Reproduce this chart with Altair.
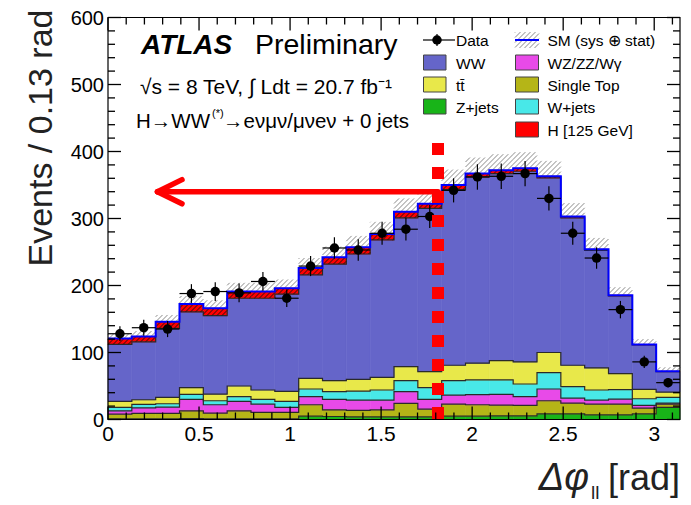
import altair as alt
import numpy as np
import pandas as pd

# ------------------------------------------------------------------ data
N_BINS = 24
X_MAX = np.pi
Y_MAX = 600

data_counts = [128, 137, 135, 188, 191, 189, 206, 181, 229, 256, 253, 278,
               284, 303, 342, 362, 363, 367, 330, 278, 241, 164, 86, 55]
data_err = [11, 12, 12, 14, 14, 14, 14, 13, 15, 16, 16, 17,
            17, 17, 18, 19, 19, 19, 18, 17, 16, 13, 9, 7]

z_jets = [1, 1, 1, 1.5, 1, 1, 1, 1, 5, 4.5, 4, 4,
          4, 4, 5, 5, 5.5, 5.5, 8.5, 8.5, 7, 7, 8.5, 18]
single_top = [7, 8, 8, 11.5, 8.5, 12, 9.5, 9.5, 17, 10, 9.5, 10.5,
              20, 11.5, 18, 17, 16, 15.5, 19.5, 16, 16, 16, 8.5, 5]
wz_zz_wg = [5, 8.5, 9.5, 17, 12.5, 14, 12.5, 7.5, 12, 15.5, 15.5, 14.5,
            17.5, 14.5, 13.5, 15, 16, 13, 17.5, 7.5, 6, 7.5, 4, 1.5]
w_jets = [5, 5, 5, 7.5, 6, 7, 7, 9, 11.5, 11.5, 13.5, 15,
          16.5, 17.5, 21.5, 22, 21.5, 19, 24.5, 17, 15, 14, 10, 8.5]
ttbar = [9, 7, 9.5, 10, 10, 16, 14, 15, 16, 16.5, 17.5, 19,
         21, 24, 23, 25, 29, 33, 30, 32, 33, 24, 14, 8]
ww = [85, 86.5, 103, 113, 117, 131, 137, 145, 154.5, 174, 187, 205,
      222, 243.5, 262, 278, 279, 284.5, 260.5, 220, 175.5, 116, 66.5, 30.5]
higgs = [9, 8, 10, 12, 11, 10, 10, 9, 10, 10, 10, 9,
         9, 7, 7, 5, 5, 4.5, 2.5, 2, 1.5, 1, 0.5, 0.5]
sm_err = [7, 8, 10, 12, 12, 13, 13, 13, 15, 16, 17, 18,
          20, 21, 23, 24, 24, 24, 23, 20, 17, 12, 8, 6]

comp_names = ["Z+jets", "Single Top", "WZ/ZZ/Wγ", "W+jets", "tt̄", "WW", "H [125 GeV]"]
comp_values = [z_jets, single_top, wz_zz_wg, w_jets, ttbar, ww, higgs]
comp_colors = ["#18b418", "#b5b517", "#e84ae8", "#48e8e8", "#e8e84a", "#6565c9", "#ff0000"]

x_tick_labels = [0, 0.5, 1, 1.5, 2, 2.5, 3]
y_tick_labels = [0, 100, 200, 300, 400, 500, 600]

# ------------------------------------------------------------------ geometry helpers
W, H = 572, 402
sx = W / X_MAX
sy = H / Y_MAX
FONT = "Liberation Sans"


def px2x(px):
    return (px - 108) / sx


def px2y(py):
    return (419.5 - py) / sy


edges = np.linspace(0, X_MAX, N_BINS + 1)
lo, hi = edges[:-1], edges[1:]
centers = 0.5 * (lo + hi)

rows = []
line_rows = []
cum = np.zeros(N_BINS)
for name, vals in zip(comp_names, comp_values):
    v = np.array(vals, float)
    for i in range(N_BINS):
        rows.append(dict(x0=lo[i], x1=hi[i], y0=cum[i], y1=cum[i] + v[i], comp=name))
    cum = cum + v
    if name != "H [125 GeV]":
        ys = list(cum) + [cum[-1]]
        for e, yv in zip(edges, ys):
            line_rows.append(dict(x=e, y=yv, level=name))
total = cum.copy()
stack_df = pd.DataFrame(rows)
lines_df = pd.DataFrame(line_rows)
total_df = pd.DataFrame({"x": edges, "y": list(total) + [total[-1]]})


def hatch(x0, x1, y0, y1, step=5.0):
    X0, X1, Y0, Y1 = x0 * sx, x1 * sx, y0 * sy, y1 * sy
    segs = []
    kmin = int(np.floor((Y0 - X1) / step))
    kmax = int(np.ceil((Y1 - X0) / step))
    for k in range(kmin, kmax + 1):
        c = k * step
        xa = max(X0, Y0 - c)
        xb = min(X1, Y1 - c)
        if xb - xa > 0.4:
            segs.append(dict(hx0=xa / sx, hy0=(xa + c) / sy, hx1=xb / sx, hy1=(xb + c) / sy))
    return segs


up_segs, h_segs = [], []
hig = np.array(higgs, float)
err = np.array(sm_err, float)
for i in range(N_BINS):
    up_segs += hatch(lo[i], hi[i], total[i], total[i] + err[i])
    h_segs += hatch(lo[i], hi[i], total[i] - hig[i], total[i])
# legend hatch box (SM)
leg_segs = hatch(px2x(515), px2x(539), px2y(48), px2y(32))
up_df = pd.DataFrame(up_segs + leg_segs)
h_df = pd.DataFrame(h_segs)

data_df = pd.DataFrame({"x": centers, "lo": lo, "hi": hi, "y": data_counts,
                        "ylo": np.array(data_counts) - np.array(data_err),
                        "yhi": np.array(data_counts) + np.array(data_err)})

SX = alt.Scale(domain=[0, X_MAX], nice=False, zero=False)
SY = alt.Scale(domain=[0, Y_MAX], nice=False, zero=False)
CS = alt.Scale(domain=comp_names, range=comp_colors)


def X(f):
    return alt.X(f, type="quantitative", scale=SX, axis=None)


def Y(f):
    return alt.Y(f, type="quantitative", scale=SY, axis=None)


layers = []

# stacked histogram
layers.append(alt.Chart(stack_df).mark_rect(strokeWidth=0.6).encode(
    x=X("x0"), x2="x1:Q", y=Y("y0"), y2="y1:Q",
    color=alt.Color("comp:N", scale=CS, legend=None),
    stroke=alt.Stroke("comp:N", scale=CS, legend=None)))

# component boundaries
layers.append(alt.Chart(lines_df).mark_line(interpolate="step-after", color="#2a2a2a",
                                            strokeWidth=1.2).encode(
    x=X("x"), y=Y("y"), detail="level:N"))

# hatch on Higgs region
layers.append(alt.Chart(h_df).mark_rule(color="#2a1010", strokeWidth=1).encode(
    x=X("hx0"), x2="hx1:Q", y=Y("hy0"), y2="hy1:Q"))
# uncertainty hatch above
layers.append(alt.Chart(up_df).mark_rule(color="#8a8a8a", strokeWidth=1).encode(
    x=X("hx0"), x2="hx1:Q", y=Y("hy0"), y2="hy1:Q"))

# SM total line
layers.append(alt.Chart(total_df).mark_line(interpolate="step-after", color="#0000ff",
                                            strokeWidth=2).encode(x=X("x"), y=Y("y")))

# data
layers.append(alt.Chart(data_df).mark_rule(color="black", strokeWidth=1.2).encode(
    x=X("x"), y=Y("ylo"), y2="yhi:Q"))
layers.append(alt.Chart(data_df).mark_rule(color="black", strokeWidth=1.2).encode(
    x=X("lo"), x2="hi:Q", y=Y("y")))
layers.append(alt.Chart(data_df).mark_circle(color="black", size=90, opacity=1).encode(
    x=X("x"), y=Y("y")))

# red dotted line & arrow
line_x = px2x(438)
arrow_df = pd.DataFrame({
    "x0": [line_x, px2x(157.5), px2x(157.5)],
    "x1": [px2x(157.5), px2x(182), px2x(182)],
    "y0": [340.0, 340.0, 340.0],
    "y1": [340.0, 340.0 + 18, 340.0 - 18],
})
layers.append(alt.Chart(pd.DataFrame({"x": [line_x], "y": [px2y(143)], "y2": [0]}))
              .mark_rule(color="#ff0000", strokeWidth=12, strokeDash=[12, 12], strokeCap="butt")
              .encode(x=X("x"), y=Y("y"), y2="y2:Q"))
layers.append(alt.Chart(arrow_df).mark_rule(color="#ff0000", strokeWidth=5.5, strokeCap="round")
              .encode(x=X("x0"), x2="x1:Q", y=Y("y0"), y2="y1:Q"))

# legend
rows_y = [40, 62.5, 84.5, 106.5, 129.5]
leg_boxes = []
col1 = (423.5, 446)
col2 = (515.5, 538.5)
for name, (c, r) in [("WW", (col1, 1)), ("tt̄", (col1, 2)), ("Z+jets", (col1, 3)),
                     ("WZ/ZZ/Wγ", (col2, 1)), ("Single Top", (col2, 2)),
                     ("W+jets", (col2, 3)), ("H [125 GeV]", (col2, 4))]:
    leg_boxes.append(dict(comp=name, x0=px2x(c[0]), x1=px2x(c[1]),
                          y0=px2y(rows_y[r] + 7.5), y1=px2y(rows_y[r] - 7.5)))
leg_box_df = pd.DataFrame(leg_boxes)
layers.append(alt.Chart(leg_box_df).mark_rect(stroke="#444444", strokeWidth=1).encode(
    x=X("x0"), x2="x1:Q", y=Y("y0"), y2="y1:Q",
    color=alt.Color("comp:N", scale=CS, legend=None)))

leg_text = pd.DataFrame({
    "t": ["Data", "WW", "tt̄", "Z+jets", "SM (sys ⊕ stat)", "WZ/ZZ/Wγ",
          "Single Top", "W+jets", "H [125 GeV]"],
    "x": [px2x(456)] * 4 + [px2x(547.5)] * 5,
    "y": [px2y(rows_y[i]) for i in [0, 1, 2, 3, 0, 1, 2, 3, 4]],
})
layers.append(alt.Chart(leg_text).mark_text(align="left", baseline="middle", fontSize=15.5,
                                            font=FONT, color="black", dy=1).encode(
    x=X("x"), y=Y("y"), text="t:N"))
# SM legend blue line
layers.append(alt.Chart(pd.DataFrame({"x0": [px2x(515)], "x1": [px2x(539)], "y": [px2y(40)]}))
              .mark_rule(color="#0000ff", strokeWidth=2).encode(x=X("x0"), x2="x1:Q", y=Y("y")))
# Data legend marker
dleg = pd.DataFrame({"x": [px2x(437)], "x0": [px2x(423)], "x1": [px2x(455)],
                     "y": [px2y(40)], "y0": [px2y(46)], "y1": [px2y(34)]})
layers.append(alt.Chart(dleg).mark_rule(color="black", strokeWidth=1.2).encode(
    x=X("x0"), x2="x1:Q", y=Y("y")))
layers.append(alt.Chart(dleg).mark_rule(color="black", strokeWidth=1.2).encode(
    x=X("x"), y=Y("y0"), y2="y1:Q"))
layers.append(alt.Chart(dleg).mark_circle(color="black", size=90, opacity=1).encode(
    x=X("x"), y=Y("y")))

# texts (pixel positions relative to the plot origin)
ONE = pd.DataFrame({"a": [0]})


def txt(s, x, y, size, align="left", color="black", **kw):
    return alt.Chart(ONE).mark_text(text=s, align=align, baseline="alphabetic", fontSize=size,
                                    font=FONT, color=color, **kw).encode(
        x=alt.value(x), y=alt.value(y))


layers.append(txt("ATLAS", 33, 36.5, 28, fontWeight="bold", fontStyle="italic"))
layers.append(txt("Preliminary", 147, 36.5, 28.5))
layers.append(txt("√s = 8 TeV, ∫ Ldt = 20.7 fb⁻¹", 32, 76.5, 21))
layers.append(txt("H→WW", 102, 110.5, 20.5, align="right"))
layers.append(txt("(*)", 104, 99, 11))
layers.append(txt("→eνμν/μνeν + 0 jets", 115, 110.5, 20.5))
# axis titles
layers.append(txt("Events / 0.13 rad", -56, -8, 34, align="right", angle=270, color="#222222"))
layers.append(txt("Δφ", 481, 472.5, 38, align="right", fontStyle="italic", color="#222222"))
layers.append(txt("ll", 483, 481, 19, color="#222222"))
layers.append(txt("[rad]", 572, 472.5, 36, align="right", color="#222222"))

# tick labels through the scales
ylab_df = pd.DataFrame({"v": y_tick_labels, "t": [str(v) for v in y_tick_labels]})
xlab_df = pd.DataFrame({"v": x_tick_labels, "t": [f"{v:g}" for v in x_tick_labels]})
layers.append(alt.Chart(ylab_df).mark_text(align="right", baseline="middle", fontSize=20,
                                           font=FONT, color="black", dx=-4, dy=1).encode(
    y=Y("v"), x=alt.value(0), text="t:N"))
layers.append(alt.Chart(xlab_df).mark_text(align="center", baseline="top", fontSize=21,
                                           font=FONT, color="black", dy=4).encode(
    x=X("v"), y=alt.value(H), text="t:N"))

# inward ticks as line segments (x, x2, y, y2 all fields)
y_minor_vals = [v for v in range(0, 601, 20) if v % 100 != 0]
x_minor_vals = [round(0.1 * k, 1) for k in range(1, 32) if k % 5 != 0]
tick_rows = []
for vals, ln in [(y_tick_labels, 13), (y_minor_vals, 7)]:
    L = ln / sx
    for v in vals:
        tick_rows.append(dict(tx0=0.0, tx1=L, ty0=float(v), ty1=float(v)))
        tick_rows.append(dict(tx0=X_MAX, tx1=X_MAX - L, ty0=float(v), ty1=float(v)))
for vals, ln in [(x_tick_labels, 13), (x_minor_vals, 7)]:
    L = ln / sy
    for v in vals:
        tick_rows.append(dict(tx0=float(v), tx1=float(v), ty0=0.0, ty1=L))
        tick_rows.append(dict(tx0=float(v), tx1=float(v), ty0=float(Y_MAX), ty1=Y_MAX - L))
ticks_df = pd.DataFrame(tick_rows)
layers.append(alt.Chart(ticks_df).mark_rule(color="black", strokeWidth=1.3).encode(
    x=X("tx0"), x2="tx1:Q", y=Y("ty0"), y2="ty1:Q"))

# frame
frame_df = pd.DataFrame({"x0": [0.0], "x1": [X_MAX], "y0": [0.0], "y1": [float(Y_MAX)]})
layers.append(alt.Chart(frame_df).mark_rect(fillOpacity=0, stroke="black", strokeWidth=1.2)
              .encode(x=X("x0"), x2="x1:Q", y=Y("y0"), y2="y1:Q"))

chart = alt.layer(*layers).properties(
    width=W, height=H,
    autosize=alt.AutoSizeParams(type="none"),
    padding={"left": 100, "top": 9.5, "right": 3, "bottom": 85},
).configure_view(strokeWidth=0)

chart.save("out.html", embed_options={"renderer": "svg", "actions": False})
